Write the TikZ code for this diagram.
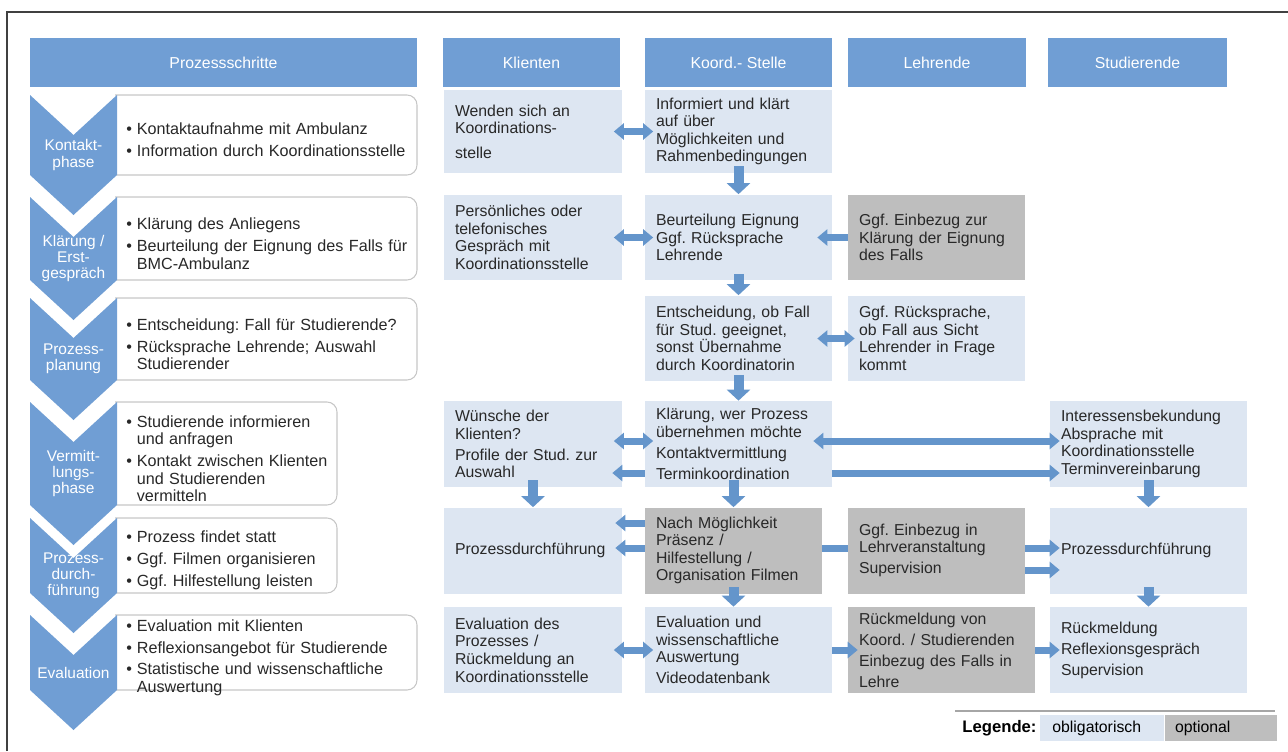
\documentclass[tikz,border=0pt]{standalone}
\usepackage{fontspec}
\setmainfont{Liberation Sans}
\usetikzlibrary{arrows.meta}
\definecolor{headblue}{RGB}{112,158,212}
\definecolor{arrowblue}{RGB}{100,149,203}
\definecolor{oblig}{RGB}{221,230,242}
\definecolor{option}{RGB}{190,190,190}
\definecolor{boxtext}{RGB}{40,40,40}
\frenchspacing
\newcommand{\bul}[1]{\par\noindent\makebox[6pt][l]{\textbullet}#1}
\newcommand{\cont}{\\\hspace*{6pt}}

\tikzset{
  head/.style={fill=headblue, text=white, minimum height=0.98cm, inner sep=0pt, font=\fontsize{9}{10}\selectfont},
  chev/.style={fill=headblue},
  chevtext/.style={text=white, align=center, inner sep=0pt, font=\fontsize{8.8}{9.2}\selectfont},
  stepbox/.style={draw=black!22, fill=white, rounded corners=0.2cm, line width=0.6pt},
  steptext/.style={anchor=west, align=left, inner sep=0pt, text=boxtext, font=\fontsize{9.2}{10}\selectfont, execute at begin node={\setlength{\parskip}{2.5pt}}},
  cell/.style={fill=oblig, text=boxtext, minimum height=1.72cm, inner xsep=0.22cm, inner ysep=0pt, align=left, font=\fontsize{9}{10}\selectfont},
  optcell/.style={cell, fill=option},
  kli/.style={text width=3.12cm},
  koo/.style={text width=3.30cm},
  leh/.style={text width=3.10cm},
  stu/.style={text width=3.50cm},
  harr/.style={draw=arrowblue, line width=0.14cm, -{Triangle[width=0.32cm,length=0.2cm]}},
  darr/.style={draw=arrowblue, line width=0.14cm, {Triangle[width=0.32cm,length=0.2cm]}-{Triangle[width=0.32cm,length=0.2cm]}},
  varr/.style={draw=arrowblue, line width=0.2cm, shorten <=-0.14cm, -{Triangle[width=0.46cm,length=0.22cm]}},
  stub/.style={shorten <=-0.17cm, shorten >=-0.17cm},
}

\begin{document}
\begin{tikzpicture}[x=0.02cm, y=-0.02cm]
\useasboundingbox (0,0) rectangle (1288,751);
\draw[line width=0.8pt, black!75] (7,751) -- (7,12) -- (1288,12);

\node[head, minimum width=7.74cm] (hps) at (223.5,62.5) {Prozessschritte};
\node[head, minimum width=3.54cm] (hkl) at (531.5,62.5) {Klienten};
\node[head, minimum width=3.74cm] (hko) at (738.5,62.5) {Koord.- Stelle};
\node[head, minimum width=3.56cm] (hle) at (937,62.5) {Lehrende};
\node[head, minimum width=3.58cm] (hst) at (1137.5,62.5) {Studierende};

\foreach \t/\b/\r/\lab [count=\i] in {95/175/417/{Kontakt-\\phase}, 197/280/417/{Klärung /\\Erst-\\gespräch}, 298/380/417/{Prozess-\\planung}, 402/505/337/{Vermitt-\\lungs-\\phase}, 518/593/337/{Prozess-\\durch-\\führung}, 615/690/417/{Evaluation}} {
  \begin{scope}
    \clip (115,0) rectangle (1288,751);
    \draw[stepbox] (60,\t) rectangle (\r,\b);
  \end{scope}
  \fill[chev] (30,\t) -- (73.5,{\t+40}) -- (117,\t) -- (117,\b) -- (73.5,{\b+40}) -- (30,\b) -- cycle;
  \node[chevtext] (ph\i) at (73.5,{(\t+\b)/2+20}) {\lab};
}

\node[steptext, text width=5.8cm] (st1) at (126,135) {\bul{Kontaktaufnahme mit Ambulanz}\bul{Information durch Koordinationsstelle}};
\node[steptext, text width=5.8cm] (st2) at (126,238.5) {\bul{Klärung des Anliegens}\bul{Beurteilung der Eignung des Falls für\cont BMC-Ambulanz}};
\node[steptext, text width=5.8cm] (st3) at (126,339) {\bul{Entscheidung: Fall für Studierende?}\bul{Rücksprache Lehrende; Auswahl\cont Studierender}};
\node[steptext, text width=4.2cm] (st4) at (126,453.5) {\bul{Studierende informieren\cont und anfragen}\bul{Kontakt zwischen Klienten\cont und Studierenden\cont vermitteln}};
\node[steptext, text width=4.2cm] (st5) at (126,555.5) {\bul{Prozess findet statt}\bul{Ggf. Filmen organisieren}\bul{Ggf. Hilfestellung leisten}};
\node[steptext, text width=5.8cm] (st6) at (126,652.5) {\bul{Evaluation mit Klienten}\bul{Reflexionsangebot für Studierende}\bul{Statistische und wissenschaftliche\cont Auswertung}};

\node[cell, kli, minimum height=1.66cm] (kli1) at (533,131.5) {Wenden sich an\\Koordinations-\\[4pt]stelle};
\node[cell, koo, minimum height=1.66cm] (koo1) at (738.5,131.5) {Informiert und klärt\\auf über\\Möglichkeiten und\\Rahmenbedingungen};
\node[cell, kli] (kli2) at (533,237.5) {Persönliches oder\\telefonisches\\Gespräch mit\\Koordinationsstelle};
\node[cell, koo] (koo2) at (738.5,237.5) {Beurteilung Eignung\\Ggf. Rücksprache\\Lehrende};
\node[optcell, leh] (leh2) at (936.5,237.5) {Ggf. Einbezug zur\\Klärung der Eignung\\des Falls};
\node[cell, koo] (koo3) at (738.5,338.5) {Entscheidung, ob Fall\\für Stud. geeignet,\\sonst Übernahme\\durch Koordinatorin};
\node[cell, leh] (leh3) at (936.5,338.5) {Ggf. Rücksprache,\\ob Fall aus Sicht\\Lehrender in Frage\\kommt};
\node[cell, kli] (kli4) at (533,444) {Wünsche der\\Klienten?\\[2pt]Profile der Stud. zur\\Auswahl};
\node[cell, koo] (koo4) at (738.5,444) {Klärung, wer Prozess\\übernehmen möchte\\[2pt]Kontaktvermittlung\\[2pt]Terminkoordination};
\node[cell, stu] (stu4) at (1148.5,444) {Interessensbekundung\\Absprache mit\\Koordinationsstelle\\Terminvereinbarung};
\node[cell, kli] (kli5) at (533,550.5) {Prozessdurchführung};
\node[optcell, leh] (leh5) at (936.5,550.5) {Ggf. Einbezug in\\Lehrveranstaltung\\[2pt]Supervision};
\node[cell, stu] (stu5) at (1148.5,550.5) {Prozessdurchführung};
\draw[harr, shorten >=-0.14cm] (leh5.west |- 0,548) -- (kli5.east |- 0,548);
\node[optcell, text width=3.10cm] (koo5) at (733.5,550.5) {Nach Möglichkeit\\Präsenz /\\Hilfestellung /\\Organisation Filmen};
\node[cell, kli] (kli6) at (533,650) {Evaluation des\\Prozesses /\\Rückmeldung an\\Koordinationsstelle};
\node[cell, koo] (koo6) at (738.5,650) {Evaluation und\\wissenschaftliche\\Auswertung\\[2pt]Videodatenbank};
\node[optcell, text width=3.30cm] (leh6) at (941.5,650) {Rückmeldung von\\[2pt]Koord. / Studierenden\\[2pt]Einbezug des Falls in\\[2pt]Lehre};
\node[cell, stu] (stu6) at (1148.5,650) {Rückmeldung\\[2pt]Reflexionsgespräch\\[2pt]Supervision};

\draw[darr, stub] (kli1) -- (koo1);
\draw[varr] (koo1) -- (koo2);
\draw[darr, stub] (kli2) -- (koo2);
\draw[harr, shorten >=-0.3cm] (leh2) -- (koo2);
\draw[varr] (koo2) -- (koo3);
\draw[darr, shorten <=-0.3cm, shorten >=-0.14cm] (koo3) -- (leh3);
\draw[varr] (koo3) -- (koo4);
\draw[darr, stub] (kli4.east |- 0,441) -- (koo4.west |- 0,441);
\draw[harr, shorten >=-0.2cm] (koo4.west |- 0,473) -- (kli4.east |- 0,473);
\draw[darr, shorten <=-0.38cm, shorten >=-0.2cm] (koo4.east |- 0,441) -- (stu4.west |- 0,441);
\draw[harr, shorten >=-0.2cm] (koo4.east |- 0,473) -- (stu4.west |- 0,473);
\draw[varr] (kli4) -- (kli5);
\draw[varr] (koo4.south -| koo5) -- (koo5);
\draw[varr] (stu4) -- (stu5);
\draw[harr, shorten >=-0.14cm] (koo5.west |- 0,523) -- (kli5.east |- 0,523);
\draw[harr, shorten >=-0.2cm] (leh5.east |- 0,548) -- (stu5.west |- 0,548);
\draw[harr, shorten >=-0.2cm] (leh5.east |- 0,570) -- (stu5.west |- 0,570);
\draw[varr] (koo5) -- (koo5 |- koo6.north);
\draw[varr] (stu5) -- (stu6);
\draw[darr, stub] (kli6) -- (koo6);
\draw[harr, shorten >=-0.2cm] (koo6) -- (leh6);
\draw[harr, shorten >=-0.2cm] (leh6) -- (stu6);

\draw[black!35, line width=1pt] (955,711) -- (1275,711);
\node[font=\bfseries\fontsize{9.5}{10}\selectfont, anchor=west, inner sep=0pt] (leg) at (962,728) {Legende:};
\node[fill=oblig, anchor=west, minimum height=0.52cm, text width=2.0cm, inner xsep=0.24cm, font=\fontsize{9}{10}\selectfont] (lobl) at (1040,728) {obligatorisch};
\node[fill=option, anchor=west, minimum height=0.52cm, text width=1.84cm, inner xsep=0.2cm, font=\fontsize{9}{10}\selectfont] (lopt) at (lobl.east) {optional};
\end{tikzpicture}
\end{document}
